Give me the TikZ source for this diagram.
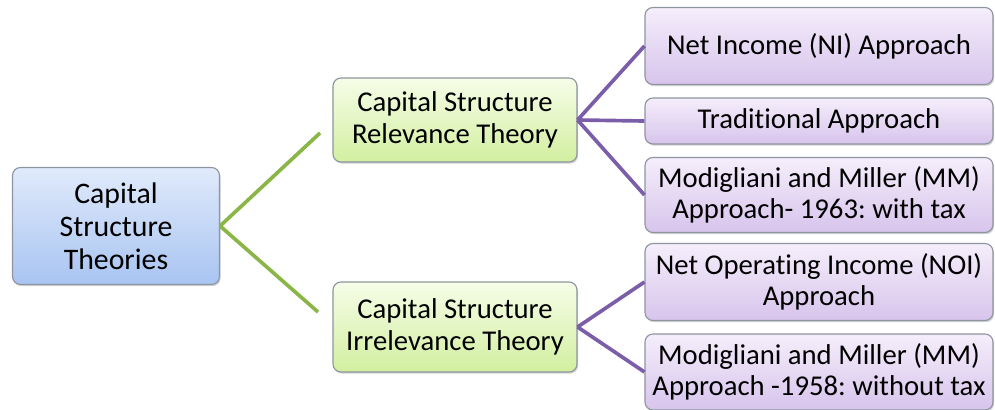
\documentclass[tikz,border=0pt]{standalone}
\usepackage{fontspec}
\setmainfont[Ligatures=NoCommon]{Carlito}
\frenchspacing
\usetikzlibrary{shadows}

\definecolor{rootTop}{HTML}{E0EAFB}
\definecolor{rootBot}{HTML}{A8C4F1}
\definecolor{midTop}{HTML}{F6FDE8}
\definecolor{midBot}{HTML}{D2EFA0}
\definecolor{leafTop}{HTML}{F5EEFB}
\definecolor{leafBot}{HTML}{D7C4EC}
\definecolor{boxLine}{HTML}{8E95A0}
\definecolor{greenLink}{HTML}{8AB648}
\definecolor{purpleLink}{HTML}{7B5DA9}

\tikzset{
  box/.style={draw=boxLine, line width=0.8pt, rounded corners=0.2cm, inner sep=0pt,
    align=center, font=\fontsize{20.4}{22.4}\selectfont,
    drop shadow={shadow xshift=0.8pt, shadow yshift=-1.2pt, opacity=0.35}},
  rootbox/.style={box, top color=rootTop, bottom color=rootBot,
    font=\fontsize{21.2}{23.4}\selectfont,
    minimum width=207*0.025cm, minimum height=117*0.025cm},
  midbox/.style={box, top color=midTop, bottom color=midBot,
    minimum width=244*0.025cm},
  leafbox/.style={box, top color=leafTop, bottom color=leafBot,
    minimum width=348*0.025cm},
  greenline/.style={draw=greenLink, line width=2.6pt},
  purpleline/.style={draw=purpleLink, line width=2.6pt}
}

\begin{document}
\begin{tikzpicture}[x=0.025cm, y=-0.025cm]
    \useasboundingbox (0,0) rectangle (995,409);

    \node [rootbox] (root) at (116,226) {Capital\\Structure\\Theories};
    \node [midbox, minimum height=84*0.025cm] (rel) at (455,120) {Capital Structure\\Relevance Theory};
    \node [midbox, minimum height=90*0.025cm] (irr) at (455,327) {Capital Structure\\Irrelevance Theory};

    \node [leafbox, minimum height=77*0.025cm] (ni) at (819,46) {Net Income (NI) Approach};
    \node [leafbox, minimum height=46*0.025cm] (trad) at (819,121) {Traditional Approach};
    \node [leafbox, minimum height=75*0.025cm] (mm63) at (819,195) {Modigliani and Miller (MM)\\Approach- 1963: with tax};
    \node [leafbox, minimum height=77*0.025cm] (noi) at (819,282) {Net Operating Income (NOI)\\Approach};
    \node [leafbox, minimum height=76*0.025cm] (mm58) at (819,372) {Modigliani and Miller (MM)\\Approach -1958: without tax};

    \coordinate (relin) at (320,133);
    \coordinate (irrin) at (318,312);

 \path[greenline]
      (root.east) edge (relin)
      (root.east) edge (irrin);
 \path[purpleline]
      (rel.east) edge (ni.west)
      (rel.east) edge (trad.west)
      (rel.east) edge (mm63.west)
      (irr.east) edge (noi.west)
      (irr.east) edge (mm58.west);
\end{tikzpicture}
\end{document}
